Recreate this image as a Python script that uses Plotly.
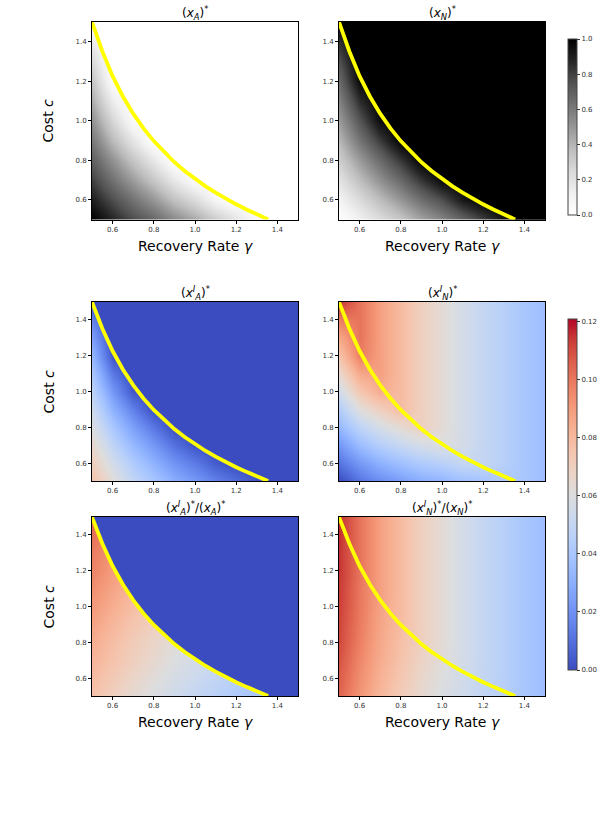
import numpy as np
import plotly.graph_objects as go

W, H = 609, 818

# ---------------- data ----------------
gamma = [0.5, 0.6, 0.7, 0.8, 0.9, 1.0, 1.1, 1.2, 1.3, 1.4, 1.5]
cost = [0.5, 0.6, 0.7, 0.8, 0.9, 1.0, 1.1, 1.2, 1.3, 1.4, 1.5]

# boundary curve (yellow)
curve_gamma = [0.50, 0.55, 0.60, 0.65, 0.70, 0.75, 0.80, 0.85, 0.90, 0.95, 1.00,
               1.05, 1.10, 1.15, 1.20, 1.25, 1.30, 1.35, 1.355]
curve_cost = [1.500, 1.352, 1.226, 1.123, 1.036, 0.961, 0.897, 0.840, 0.790, 0.746, 0.706,
              0.669, 0.636, 0.605, 0.577, 0.551, 0.526, 0.502, 0.500]

# (x_A)^*  rows = cost (0.5 -> 1.5), cols = gamma (0.5 -> 1.5)
xA = [
    [1.00, 0.88, 0.77, 0.67, 0.55, 0.45, 0.32, 0.20, 0.06, 0.00, 0.00],
    [0.90, 0.76, 0.63, 0.50, 0.36, 0.24, 0.08, 0.00, 0.00, 0.00, 0.00],
    [0.80, 0.63, 0.48, 0.33, 0.17, 0.03, 0.00, 0.00, 0.00, 0.00, 0.00],
    [0.70, 0.51, 0.34, 0.17, 0.00, 0.00, 0.00, 0.00, 0.00, 0.00, 0.00],
    [0.61, 0.38, 0.19, 0.00, 0.00, 0.00, 0.00, 0.00, 0.00, 0.00, 0.00],
    [0.52, 0.26, 0.04, 0.00, 0.00, 0.00, 0.00, 0.00, 0.00, 0.00, 0.00],
    [0.43, 0.14, 0.00, 0.00, 0.00, 0.00, 0.00, 0.00, 0.00, 0.00, 0.00],
    [0.34, 0.02, 0.00, 0.00, 0.00, 0.00, 0.00, 0.00, 0.00, 0.00, 0.00],
    [0.25, 0.00, 0.00, 0.00, 0.00, 0.00, 0.00, 0.00, 0.00, 0.00, 0.00],
    [0.15, 0.00, 0.00, 0.00, 0.00, 0.00, 0.00, 0.00, 0.00, 0.00, 0.00],
    [0.00, 0.00, 0.00, 0.00, 0.00, 0.00, 0.00, 0.00, 0.00, 0.00, 0.00],
]

# (x_A^I)^*/(x_A)^*
ratioA = [
    [0.076, 0.070, 0.064, 0.059, 0.054, 0.050, 0.046, 0.042, 0.039, 0.036, 0.034],
    [0.079, 0.073, 0.067, 0.062, 0.057, 0.053, 0.049, 0.045, 0.042, 0.039, 0.037],
    [0.082, 0.076, 0.070, 0.065, 0.060, 0.056, 0.052, 0.048, 0.045, 0.042, 0.040],
    [0.085, 0.078, 0.072, 0.067, 0.062, 0.058, 0.054, 0.050, 0.047, 0.044, 0.042],
    [0.088, 0.081, 0.075, 0.070, 0.065, 0.061, 0.057, 0.053, 0.050, 0.047, 0.045],
    [0.091, 0.084, 0.078, 0.073, 0.068, 0.064, 0.060, 0.056, 0.053, 0.050, 0.048],
    [0.094, 0.087, 0.081, 0.076, 0.071, 0.067, 0.063, 0.059, 0.056, 0.053, 0.051],
    [0.097, 0.090, 0.084, 0.079, 0.074, 0.070, 0.066, 0.062, 0.059, 0.056, 0.054],
    [0.099, 0.092, 0.086, 0.081, 0.076, 0.072, 0.068, 0.064, 0.061, 0.058, 0.056],
    [0.102, 0.095, 0.089, 0.084, 0.079, 0.075, 0.071, 0.067, 0.064, 0.061, 0.059],
    [0.105, 0.098, 0.092, 0.087, 0.082, 0.078, 0.074, 0.070, 0.067, 0.064, 0.062],
]

# (x_N^I)^*/(x_N)^*
ratioN = [
    [0.105, 0.092, 0.081, 0.072, 0.065, 0.059, 0.054, 0.049, 0.045, 0.040, 0.036],
    [0.107, 0.094, 0.083, 0.074, 0.066, 0.060, 0.055, 0.050, 0.045, 0.040, 0.036],
    [0.109, 0.096, 0.085, 0.076, 0.068, 0.062, 0.056, 0.050, 0.045, 0.040, 0.036],
    [0.111, 0.098, 0.086, 0.077, 0.070, 0.063, 0.056, 0.050, 0.045, 0.040, 0.036],
    [0.112, 0.099, 0.087, 0.079, 0.070, 0.063, 0.056, 0.050, 0.045, 0.040, 0.036],
    [0.113, 0.100, 0.088, 0.079, 0.070, 0.063, 0.056, 0.050, 0.045, 0.040, 0.036],
    [0.114, 0.100, 0.089, 0.079, 0.070, 0.063, 0.056, 0.050, 0.045, 0.040, 0.036],
    [0.115, 0.101, 0.089, 0.079, 0.070, 0.063, 0.056, 0.050, 0.045, 0.040, 0.036],
    [0.115, 0.101, 0.089, 0.079, 0.070, 0.063, 0.056, 0.050, 0.045, 0.040, 0.036],
    [0.116, 0.101, 0.089, 0.079, 0.070, 0.063, 0.056, 0.050, 0.045, 0.040, 0.036],
    [0.116, 0.101, 0.089, 0.079, 0.070, 0.063, 0.056, 0.050, 0.045, 0.040, 0.036],
]

xtick_vals = [0.6, 0.8, 1.0, 1.2, 1.4]
xtick_text = ["0.6", "0.8", "1.0", "1.2", "1.4"]
cb1_vals = [0.0, 0.2, 0.4, 0.6, 0.8, 1.0]
cb1_text = ["0.0", "0.2", "0.4", "0.6", "0.8", "1.0"]
cb2_vals = [0.0, 0.02, 0.04, 0.06, 0.08, 0.10, 0.12]
cb2_text = ["0.00", "0.02", "0.04", "0.06", "0.08", "0.10", "0.12"]

titles = [
    "(<i>x<sub>A</sub></i>)<sup>*</sup>",
    "(<i>x<sub>N</sub></i>)<sup>*</sup>",
    "(<i>x<sup>I</sup><sub>A</sub></i>)<sup>*</sup>",
    "(<i>x<sup>I</sup><sub>N</sub></i>)<sup>*</sup>",
    "(<i>x<sup>I</sup><sub>A</sub></i>)<sup>*</sup>/(<i>x<sub>A</sub></i>)<sup>*</sup>",
    "(<i>x<sup>I</sup><sub>N</sub></i>)<sup>*</sup>/(<i>x<sub>N</sub></i>)<sup>*</sup>",
]

# ---------------- derived quantities ----------------
xA_a = np.array(xA)
xN_a = 1.0 - xA_a
ratioA_a = np.array(ratioA)
ratioN_a = np.array(ratioN)
xAI_a = xA_a * ratioA_a
xNI_a = xN_a * ratioN_a

# ---------------- styles ----------------
greys = [[0.0, "#ffffff"], [0.125, "#f0f0f0"], [0.25, "#d9d9d9"], [0.375, "#bdbdbd"],
         [0.5, "#969696"], [0.625, "#737373"], [0.75, "#525252"], [0.875, "#252525"],
         [1.0, "#000000"]]
cw_rgb = [(59, 76, 192), (77, 104, 215), (98, 130, 234), (119, 154, 247), (141, 176, 254),
          (163, 194, 255), (184, 208, 249), (204, 217, 238), (221, 221, 221),
          (236, 211, 197), (245, 196, 173), (247, 177, 148), (244, 154, 123),
          (236, 127, 99), (222, 96, 77), (203, 62, 56), (180, 4, 38)]
coolwarm = [[i / (len(cw_rgb) - 1), "rgb(%d,%d,%d)" % c] for i, c in enumerate(cw_rgb)]
ZMAX2 = 0.121

FONT = "DejaVu Sans"

# panel pixel boxes: (left, right), (top, bottom)
cols_px = [(92, 298), (339, 545)]
rows_px = [(22, 219.5), (302, 481), (517, 696)]

fig = go.Figure()

panels = [
    (xA_a, greys, 0, 1, "#ffffff"),
    (xN_a, greys, 0, 1, "#000000"),
    (xAI_a, coolwarm, 0, ZMAX2, "rgb(59,76,192)"),
    (xNI_a, coolwarm, 0, ZMAX2, None),
    (ratioA_a, coolwarm, 0, ZMAX2, "rgb(59,76,192)"),
    (ratioN_a, coolwarm, 0, ZMAX2, None),
]

lo, hi = 0.45, 1.55
poly_x = curve_gamma + [curve_gamma[-1], hi, hi, curve_gamma[0]]
poly_y = curve_cost + [lo, lo, hi, hi]


def cbar(yc_px, len_px, vals, text):
    return dict(x=568 / W, xanchor="left", xpad=0, ypad=0,
                y=1 - yc_px / H, yanchor="middle", len=len_px / H, lenmode="fraction",
                thickness=9, thicknessmode="pixels", outlinewidth=1, outlinecolor="#444",
                ticks="outside", ticklen=3, tickwidth=0.8, tickcolor="#333",
                tickvals=vals, ticktext=text,
                tickfont=dict(size=7, color="#333", family=FONT))


for i, (z, cs, zmin, zmax, fillc) in enumerate(panels):
    r, c = divmod(i, 2)
    ax = "" if i == 0 else str(i + 1)
    xa, ya = "x" + ax, "y" + ax
    show = i in (1, 3)
    cb = None
    if i == 1:
        cb = cbar(127, 176, cb1_vals, cb1_text)
    elif i == 3:
        cb = cbar(494.5, 351, cb2_vals, cb2_text)
    fig.add_trace(go.Heatmap(x=gamma, y=cost, z=z, colorscale=cs, zmin=zmin, zmax=zmax,
                             zsmooth="best", showscale=show, colorbar=cb,
                             xaxis=xa, yaxis=ya, hoverinfo="skip"))
    if fillc is not None:
        fig.add_trace(go.Scatter(x=poly_x, y=poly_y, fill="toself", fillcolor=fillc,
                                 mode="lines", line=dict(width=0, color=fillc),
                                 xaxis=xa, yaxis=ya, showlegend=False, hoverinfo="skip"))
    fig.add_trace(go.Scatter(x=curve_gamma, y=curve_cost, mode="lines",
                             line=dict(color="#ffff00", width=3.8),
                             xaxis=xa, yaxis=ya, showlegend=False, hoverinfo="skip"))

    L, R = cols_px[c]
    T, B = rows_px[r]
    axcommon = dict(range=[0.5, 1.5], showgrid=False, zeroline=False, showline=True,
                    linecolor="black", linewidth=1, mirror=True, ticks="outside",
                    ticklen=3, tickwidth=0.8, tickcolor="black",
                    tickvals=xtick_vals, ticktext=xtick_text,
                    tickfont=dict(size=7, color="#333", family=FONT))
    fig.layout["xaxis" + ax] = dict(domain=[L / W, R / W], anchor=ya, **axcommon)
    fig.layout["yaxis" + ax] = dict(domain=[1 - B / H, 1 - T / H], anchor=xa, **axcommon)

    # titles
    title_y = [13, 293, 508][r]
    fig.add_annotation(text=titles[i], x=(L + R) / 2 / W, y=1 - title_y / H,
                       xref="paper", yref="paper", showarrow=False,
                       xanchor="center", yanchor="middle",
                       font=dict(size=12, color="black", family=FONT))

# axis labels
for yc in [120.5, 391.5, 606.5]:
    fig.add_annotation(text="Cost <i>c</i>", x=48 / W, y=1 - yc / H, xref="paper", yref="paper",
                       showarrow=False, textangle=-90, xanchor="center", yanchor="middle",
                       font=dict(size=14, color="black", family=FONT))
for yl in [246, 722]:
    for (L, R) in cols_px:
        fig.add_annotation(text="Recovery Rate <i>γ</i>", x=(L + R) / 2 / W, y=1 - yl / H,
                           xref="paper", yref="paper", showarrow=False,
                           xanchor="center", yanchor="middle",
                           font=dict(size=14, color="black", family=FONT))

fig.update_layout(width=W, height=H, margin=dict(l=0, r=0, t=0, b=0),
                  paper_bgcolor="white", plot_bgcolor="white", showlegend=False)

fig.write_html("out.html")
